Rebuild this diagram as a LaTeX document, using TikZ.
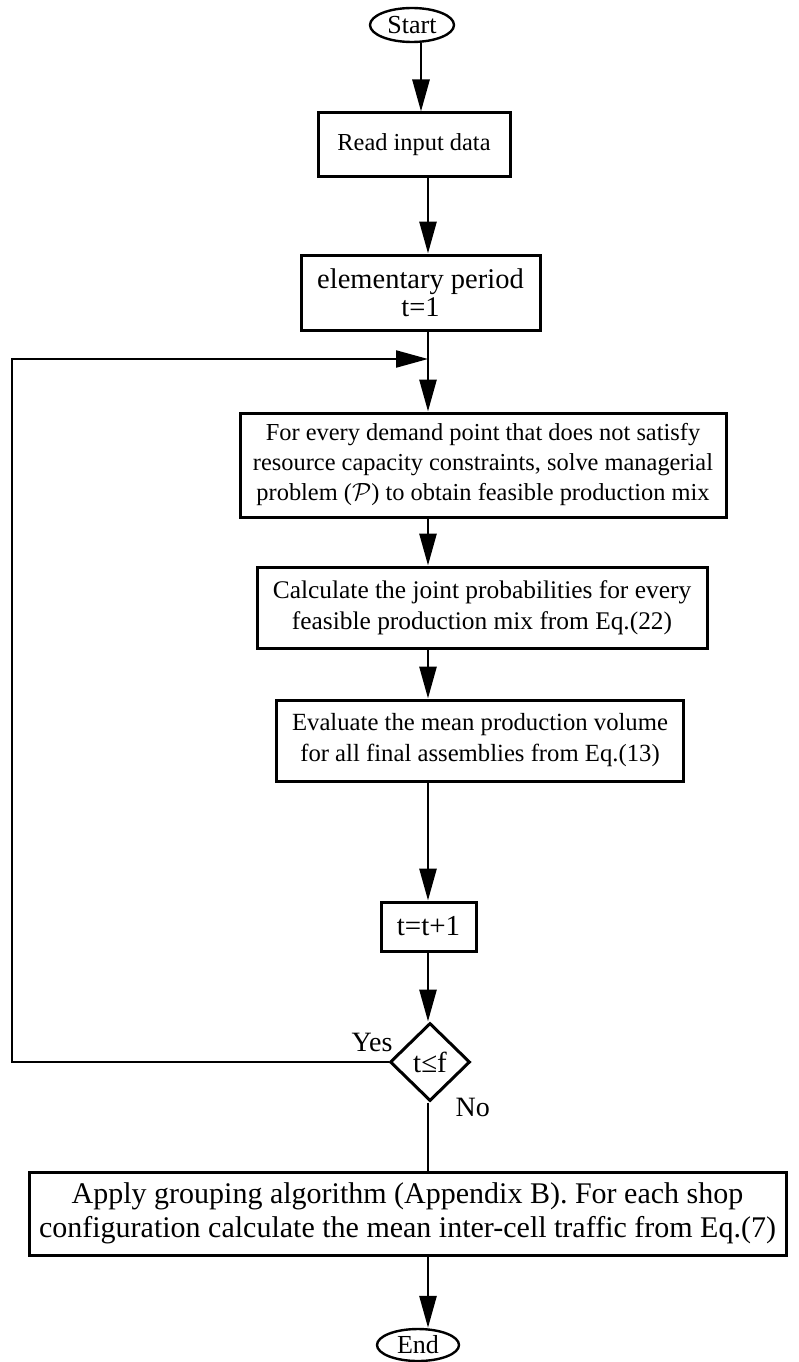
\documentclass[tikz,border=0pt]{standalone}
\usepackage{fontspec}
\setmainfont{Liberation Serif}
\usetikzlibrary{arrows.meta,shapes.geometric}
\newcommand{\fs}[2]{\fontsize{#1}{#2}\selectfont}
\begin{document}
\begin{tikzpicture}[x=1pt,y=-1pt,
  txt/.style={font=\fs{24.4}{30}},
  box/.style={txt,draw,rectangle,line width=3pt,inner sep=0pt,align=center},
  term/.style={txt,draw,ellipse,line width=2.4pt,inner sep=0pt},
  decision/.style={draw,diamond,line width=3pt,inner sep=0pt,minimum width=80pt,minimum height=78pt,font=\fs{29}{30}},
  arr/.style={line width=2.8pt,-{Triangle[length=32pt,width=17pt]}},
  loopline/.style={line width=2.2pt,-{Triangle[length=32pt,width=17pt]}},
  lbl/.style={font=\fs{28}{32}}]
\useasboundingbox (0,0) rectangle (798,1362);
\coordinate (ax) at (428,0);
\coordinate (axs) at (421,0);
\node[term,minimum width=84pt,minimum height=34pt,font=\fs{26}{30}] (start) at (412,25) {Start};
\node[box,minimum width=192pt,minimum height=63pt] (read) at (414,144.5) {Read input data};
\node[box,minimum width=239pt,minimum height=75pt,font=\fs{28.5}{28}] (elem) at (420.5,292.5) {elementary period\\t=1};
\node[box,minimum width=486pt,minimum height=104pt] (big) at (483,465) {For every demand point that does not satisfy\\resource capacity constraints, solve managerial\\problem ($\mathcal{P}$) to obtain feasible production mix};
\node[box,minimum width=450pt,minimum height=81pt,font=\fs{25.4}{31}] (calc) at (482,607.5) {Calculate the joint probabilities for every\\feasible production mix from Eq.(22)};
\node[box,minimum width=407pt,minimum height=81pt,font=\fs{24.7}{31}] (eval) at (480,740.5) {Evaluate the mean production volume\\for all final assemblies from Eq.(13)};
\node[box,minimum width=95pt,minimum height=49pt,font=\fs{29}{30}] (inc) at (428.5,926.5) {t=t+1};
\node[decision] (dec) at (430,1062) {t≤f};
\node[box,minimum width=757pt,minimum height=83pt,font=\fs{30}{34}] (apply) at (407.5,1213.5) {Apply grouping algorithm (Appendix B). For each shop\\configuration calculate the mean inter-cell traffic from Eq.(7)};
\node[term,minimum width=82pt,minimum height=32pt,font=\fs{26}{30}] (end) at (418,1345) {End};
\node[lbl,anchor=base east] (yes) at (396,1051) {Yes};
\node[lbl,anchor=base west] (no) at (452,1116) {No};
\coordinate (loopL) at (12,359);
\coordinate (join) at (428,359);
\draw[arr] (start.south -| axs) -- (read.north -| axs);
\draw[arr] (read.south -| ax) -- (elem.north -| ax);
\draw[arr] (elem.south -| ax) -- (big.north -| ax);
\draw[arr] (big.south -| ax) -- (calc.north -| ax);
\draw[arr] (calc.south -| ax) -- (eval.north -| ax);
\draw[arr] (eval.south -| ax) -- (inc.north -| ax);
\draw[arr] (inc.south -| ax) -- (dec.north -| ax);
\draw[line width=2.8pt] (dec.south -| ax) -- (apply.north -| ax);
\draw[arr] (apply.south -| ax) -- (end.north -| ax);
\draw[loopline] (dec.west) -| (loopL) -- (join);
\end{tikzpicture}
\end{document}
